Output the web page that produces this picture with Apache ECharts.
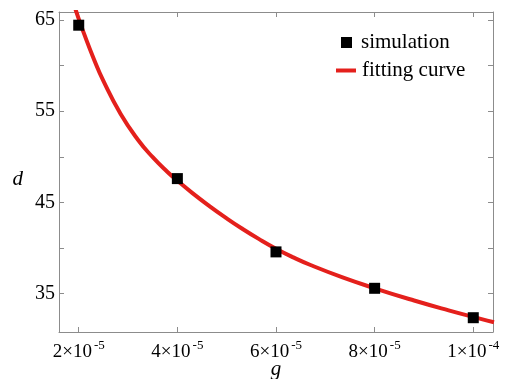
<!DOCTYPE html>
<html>
<head>
<meta charset="utf-8">
<script src="https://cdn.jsdelivr.net/npm/echarts@6/dist/echarts.min.js"></script>
<style>html,body{margin:0;padding:0;background:#fff}#c{width:511px;height:379px}</style>
</head>
<body>
<div id="c"></div>
<script>
// simulation points (g, d)
const simG = [2e-5, 4e-5, 6e-5, 8e-5, 1e-4];
const simD = [64.45, 47.6, 39.55, 35.55, 32.32];
// fitting curve (g, d)
const fitG = [1.90e-5, 2.00e-5, 2.10e-5, 2.30e-5, 2.50e-5, 2.85e-5, 3.20e-5, 3.50e-5, 3.80e-5, 4.00e-5, 4.30e-5, 4.65e-5, 5.00e-5, 5.30e-5, 5.65e-5, 6.00e-5, 6.35e-5, 6.70e-5, 7.35e-5, 8.00e-5, 8.80e-5, 9.50e-5, 10.15e-5, 10.42e-5];
const fitD = [66.75, 65.15, 63.63, 60.83, 58.33, 54.69, 51.87, 49.95, 48.33, 47.38, 46.03, 44.58, 43.23, 42.15, 40.98, 39.9, 38.95, 38.11, 36.75, 35.55, 34.21, 33.13, 32.19, 31.82];
// tick labels
const xTickValues = [2e-5, 4e-5, 6e-5, 8e-5, 1e-4];
const xTickMant = ['2', '4', '6', '8', '1'];
const xTickExp = ['-5', '-5', '-5', '-5', '-4'];
const yTickLabels = [35, 45, 55, 65];
const seriesNames = ['simulation', 'fitting curve'];

const xMin = 1.6e-5, xMax = 10.4e-5, yMin = 30.75, yMax = 65.9;
const font = 'Liberation Serif';
const frameColor = '#8c8c8c';
const red = '#e4201c';

const chart = echarts.init(document.getElementById('c'));
const baseX = {
  type: 'value', min: xMin, max: xMax, splitNumber: 4,
  axisLine: { show: true, lineStyle: { color: frameColor, width: 1 } },
  axisTick: { show: true, inside: true, length: 5, lineStyle: { color: frameColor } },
  splitLine: { show: false }
};
const baseY = {
  type: 'value', min: yMin, max: yMax, splitNumber: 7,
  axisLine: { show: true, lineStyle: { color: frameColor, width: 1 } },
  axisTick: { show: true, inside: true, length: 5, lineStyle: { color: frameColor } },
  splitLine: { show: false }
};
chart.setOption({
  animation: false,
  backgroundColor: '#fff',
  grid: { left: 59, right: 18, top: 12, bottom: 47, containLabel: false, outerBoundsMode: 'none' },
  legend: [
    { data: [seriesNames[0]], left: 341, top: 32, itemWidth: 11, itemHeight: 11, icon: 'rect', padding: 0,
      textStyle: { fontFamily: font, fontSize: 21, color: '#000', padding: [0, 0, 0, 4] } },
    { data: [{ name: seriesNames[1], icon: 'rect' }], left: 336, top: 60, itemWidth: 20, itemHeight: 4, padding: 0,
      textStyle: { fontFamily: font, fontSize: 21, color: '#000', padding: [0, 0, 0, 1] } }
  ],
  xAxis: [
    Object.assign({}, baseX, {
      position: 'bottom',
      name: 'g', nameLocation: 'middle', nameGap: 27, nameMoveOverlap: false,
      nameTextStyle: { fontFamily: font, fontStyle: 'italic', fontSize: 21, color: '#000' },
      axisLabel: {
        show: true, margin: 7,
        formatter: function (v) {
          const i = xTickValues.findIndex(t => Math.abs(t - v) < 1e-9);
          if (i < 0) return '';
          return '{b|' + xTickMant[i] + '×10}{s|' + xTickExp[i] + '}';
        },
        rich: {
          b: { fontFamily: font, fontSize: 19, color: '#000' },
          s: { fontFamily: font, fontSize: 13, color: '#000', padding: [0, 0, 13, 2] }
        }
      }
    }),
    Object.assign({}, baseX, { position: 'top', axisLabel: { show: false } })
  ],
  yAxis: [
    Object.assign({}, baseY, {
      position: 'left',
      name: 'd', nameLocation: 'middle', nameGap: 36, nameRotate: 0, nameMoveOverlap: false,
      nameTextStyle: { fontFamily: font, fontStyle: 'italic', fontSize: 21, color: '#000', verticalAlign: 'top', lineHeight: 15 },
      axisLabel: {
        show: true, margin: 4, fontFamily: font, fontSize: 20, color: '#000',
        formatter: function (v) {
          const i = yTickLabels.findIndex(t => Math.abs(t - v) < 1e-6);
          return i < 0 ? '' : String(yTickLabels[i]);
        }
      }
    }),
    Object.assign({}, baseY, { position: 'right', axisLabel: { show: false } })
  ],
  series: [
    {
      name: seriesNames[0], type: 'scatter', symbol: 'rect', symbolSize: 11, z: 5,
      itemStyle: { color: '#000', opacity: 1 },
      data: simG.map((g, i) => [g, simD[i]])
    },
    {
      name: seriesNames[1], type: 'line', smooth: true, showSymbol: false, symbol: 'none', clip: true, z: 3,
      lineStyle: { color: red, width: 4 }, itemStyle: { color: red },
      data: fitG.map((g, i) => [g, fitD[i]])
    }
  ]
});
</script>
</body>
</html>
